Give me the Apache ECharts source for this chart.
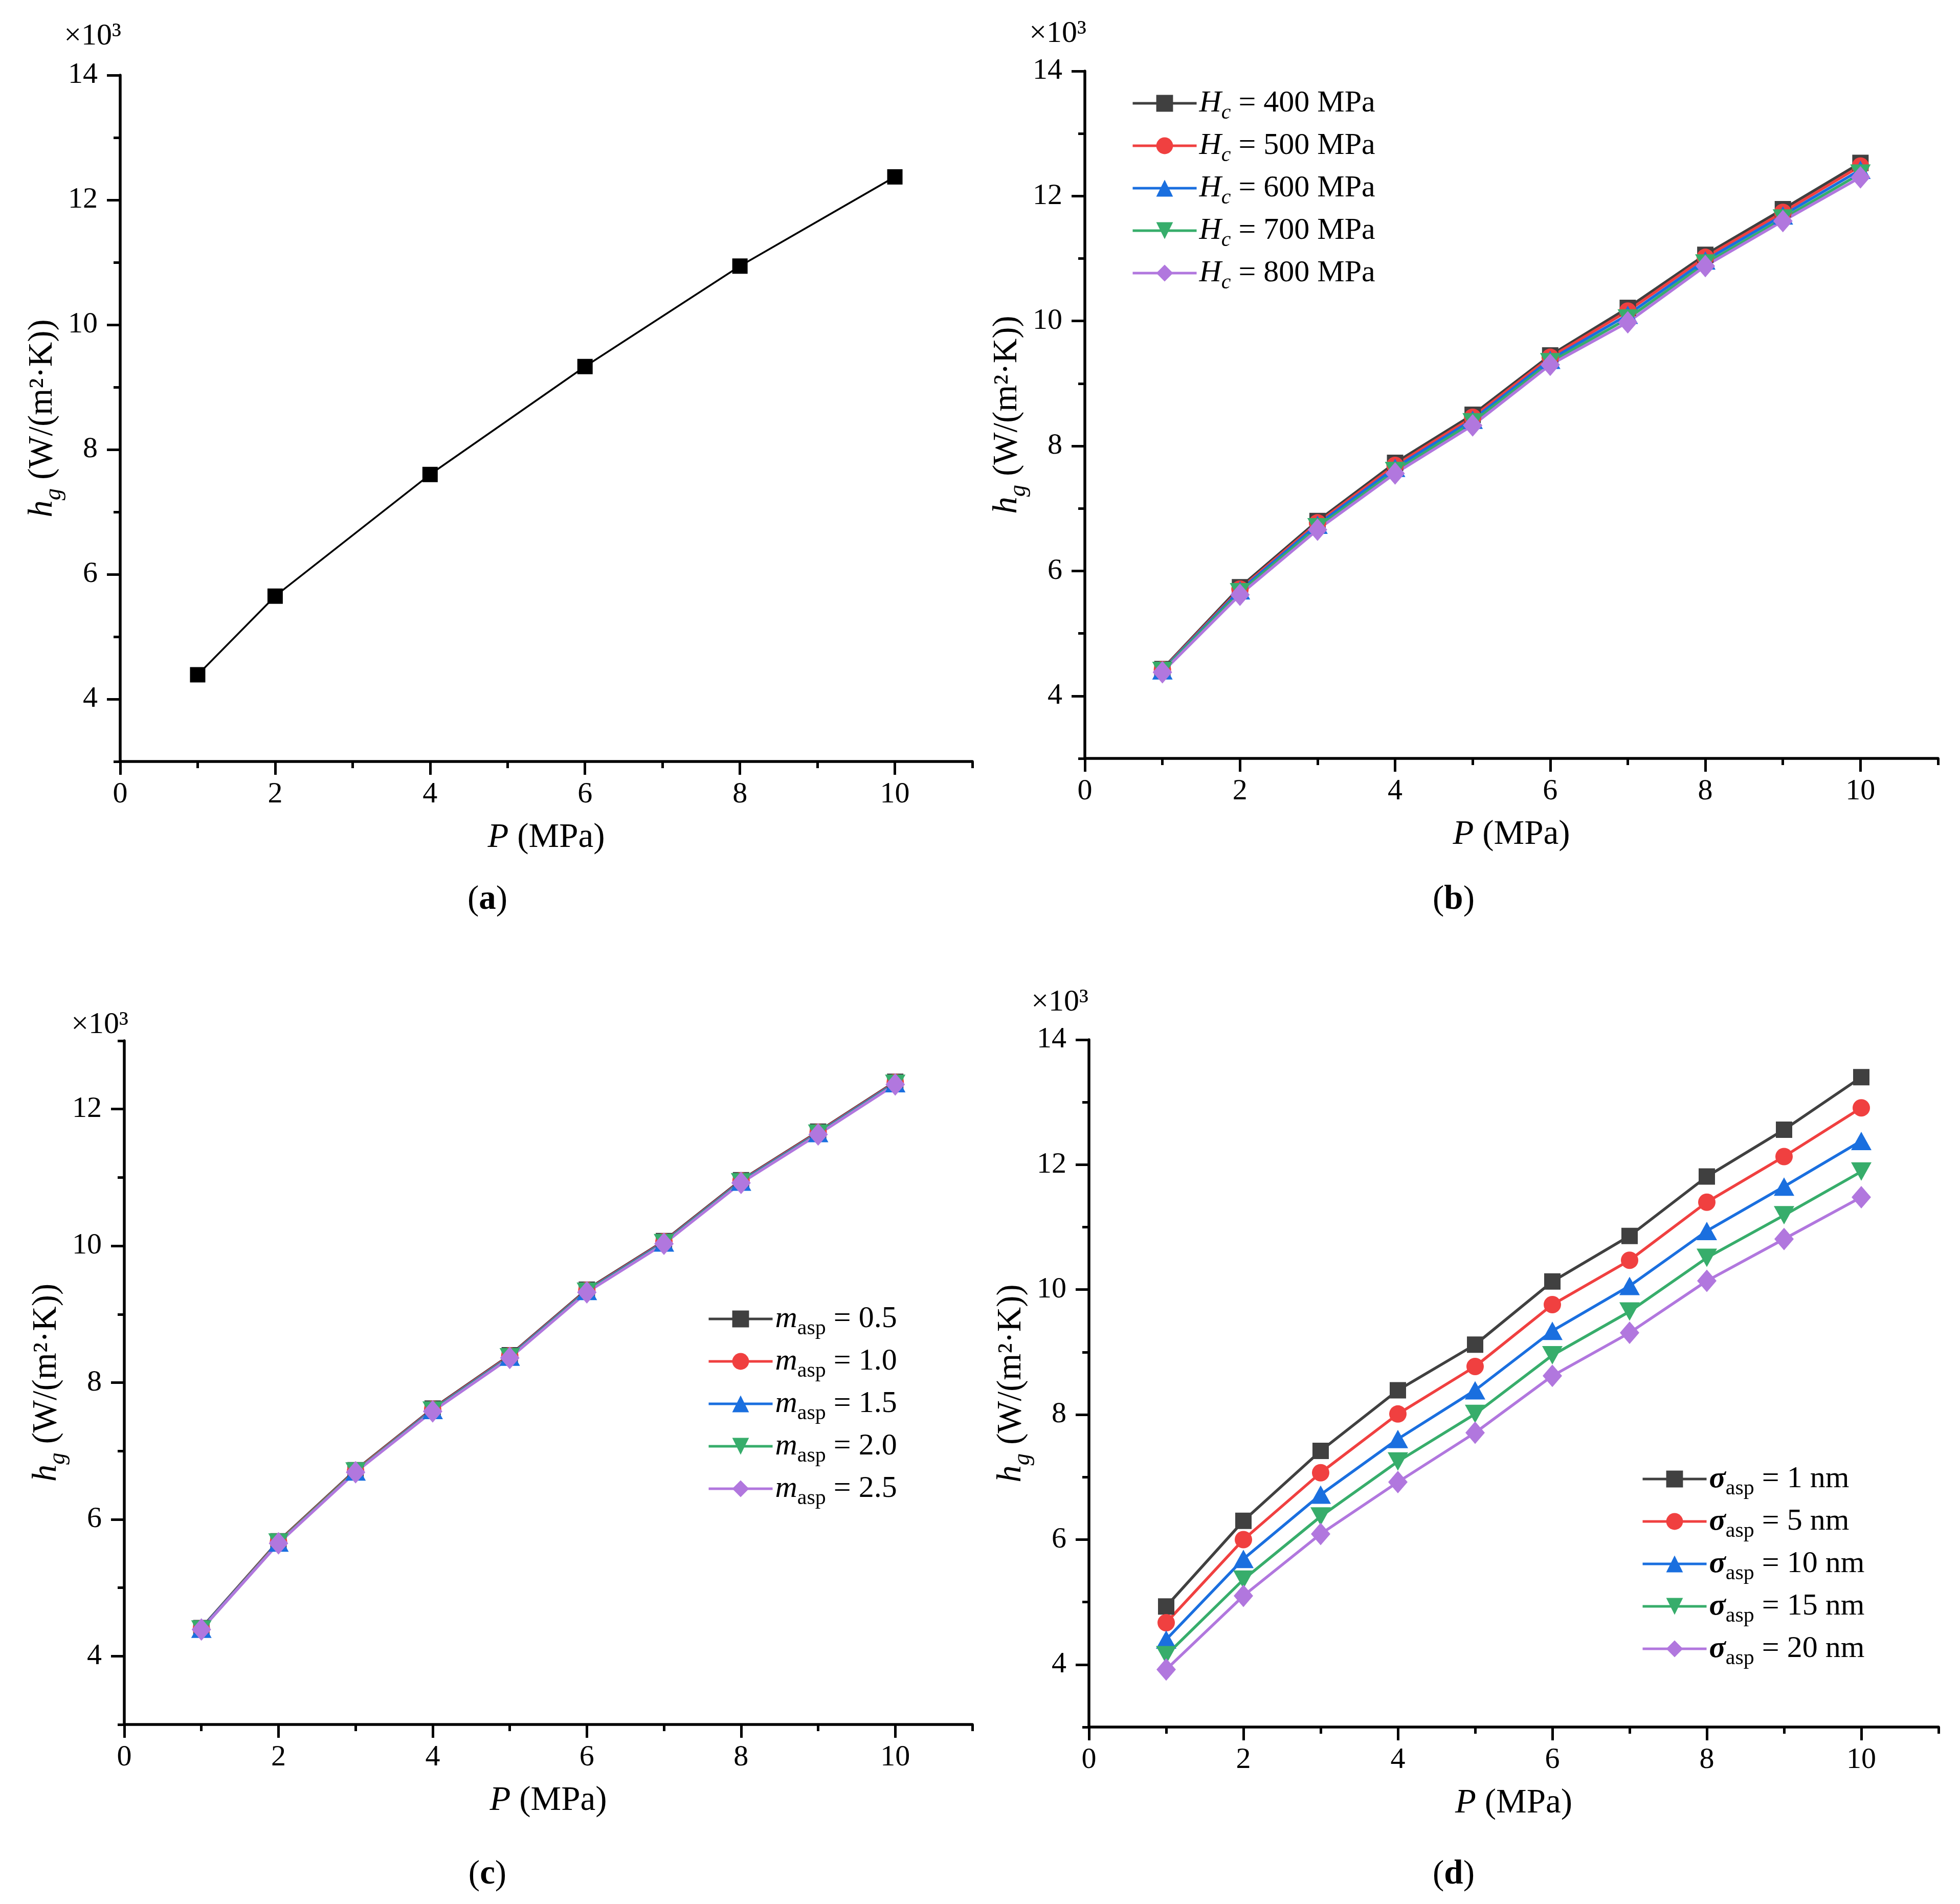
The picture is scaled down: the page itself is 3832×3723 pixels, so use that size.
<!DOCTYPE html>
<html><head><meta charset="utf-8">
<script src="https://cdn.jsdelivr.net/npm/echarts@6/dist/echarts.min.js"></script>
<style>html,body{margin:0;padding:0;background:#fff}#c{width:3832px;height:3723px}</style>
</head><body><div id="c"></div>
<script>
// ---------- data ----------
const pressureA = [1, 2, 4, 6, 8, 10];
const hgA = [4.39, 5.65, 7.60, 9.33, 10.94, 12.37];

const pressure = [1, 2, 3, 4, 5, 6, 7, 8, 9, 10];

const hcLabels = ['400', '500', '600', '700', '800'];
const hc400 = [4.43, 5.74, 6.80, 7.73, 8.50, 9.45, 10.21, 11.06, 11.79, 12.53];
const hc500 = [4.42, 5.71, 6.77, 7.69, 8.46, 9.42, 10.16, 11.02, 11.74, 12.48];
const hc600 = [4.41, 5.69, 6.74, 7.65, 8.42, 9.38, 10.10, 10.97, 11.69, 12.42];
const hc700 = [4.40, 5.66, 6.70, 7.60, 8.38, 9.34, 10.04, 10.92, 11.64, 12.36];
const hc800 = [4.38, 5.62, 6.66, 7.56, 8.33, 9.30, 9.98, 10.88, 11.60, 12.30];

const mLabels = ['0.5', '1.0', '1.5', '2.0', '2.5'];
const m05 = [4.41, 5.68, 6.72, 7.62, 8.40, 9.36, 10.07, 10.96, 11.67, 12.40];
const m10 = [4.40, 5.67, 6.71, 7.61, 8.39, 9.35, 10.06, 10.95, 11.66, 12.39];
const m15 = [4.40, 5.66, 6.70, 7.60, 8.38, 9.34, 10.05, 10.94, 11.65, 12.38];
const m20 = [4.39, 5.66, 6.70, 7.59, 8.37, 9.33, 10.04, 10.93, 11.64, 12.37];
const m25 = [4.39, 5.65, 6.69, 7.58, 8.36, 9.32, 10.03, 10.92, 11.63, 12.36];

const sigmaLabels = ['1', '5', '10', '15', '20'];
const s1 = [4.93, 6.30, 7.42, 8.39, 9.12, 10.13, 10.86, 11.81, 12.56, 13.40];
const s5 = [4.67, 6.00, 7.07, 8.01, 8.77, 9.76, 10.47, 11.40, 12.13, 12.91];
const s10 = [4.40, 5.69, 6.72, 7.61, 8.39, 9.34, 10.06, 10.94, 11.65, 12.38];
const s15 = [4.15, 5.36, 6.37, 7.25, 8.01, 8.95, 9.65, 10.51, 11.19, 11.89];
const s20 = [3.92, 5.10, 6.09, 6.92, 7.71, 8.62, 9.31, 10.14, 10.81, 11.48];

const xMajor = [0, 2, 4, 6, 8, 10];
const xMinor = [1, 3, 5, 7, 9, 11];
const yMajor14 = [4, 6, 8, 10, 12, 14];
const yMinor14 = [3, 5, 7, 9, 11, 13];
const yMajor13 = [4, 6, 8, 10, 12];
const yMinor13 = [3, 5, 7, 9, 11, 13];

// ---------- styling ----------
const SERIF = "'Liberation Serif', 'Times New Roman', serif";
const COLORS = ['#404040', '#F04040', '#1A6FDF', '#37AD6B', '#B177DE'];
const SYMBOLS = ['rect', 'circle', 'triangle', 'triangle', 'diamond'];
const SYMROT = [0, 0, 0, 180, 0];
const SYMSIZE = [32, 34, [40, 36], [40, 36], [38, 44]];

const grids = [
  {left: 235, top: 147, width: 1666, height: 1342},
  {left: 2121, top: 139, width: 1668, height: 1344},
  {left: 243, top: 2035, width: 1658, height: 1337},
  {left: 2129, top: 2033, width: 1661, height: 1344}
];
const yMax = [14, 14, 13, 14];

const axisColor = '#000';
const titleRich = {
  n: {fontFamily: SERIF, fontSize: 67, color: '#000', lineHeight: 72},
  i: {fontFamily: SERIF, fontSize: 67, fontStyle: 'italic', color: '#000', lineHeight: 72},
  si: {fontFamily: SERIF, fontSize: 47, fontStyle: 'italic', color: '#000', lineHeight: 72, padding: [44, 0, 0, 0]}
};

const xAxes = [], yAxes = [];
grids.forEach((g, i) => {
  const yMaj = yMax[i] === 14 ? yMajor14 : yMajor13;
  const yMin = yMax[i] === 14 ? yMinor14 : yMinor13;
  xAxes.push({
    type: 'value', gridIndex: i, min: 0, max: 11, position: 'bottom',
    axisLine: {show: true, onZero: false, lineStyle: {color: axisColor, width: 5.5}},
    axisTick: {show: true, length: 26, customValues: xMajor, lineStyle: {color: axisColor, width: 5}},
    axisLabel: {customValues: xMajor, fontFamily: SERIF, fontSize: 58, color: '#000', margin: 36},
    splitLine: {show: false},
    name: '{i|P}{n| (MPa)}', nameLocation: 'middle', nameGap: 113,
    nameTextStyle: {rich: titleRich}
  });
  xAxes.push({
    type: 'value', gridIndex: i, min: 0, max: 11, position: 'bottom', offset: 0,
    axisLine: {show: false, onZero: false},
    axisTick: {show: true, length: 13, customValues: xMinor, lineStyle: {color: axisColor, width: 5}},
    axisLabel: {show: false, customValues: xMinor},
    splitLine: {show: false}
  });
  yAxes.push({
    type: 'value', gridIndex: i, min: 3, max: yMax[i], position: 'left',
    axisLine: {show: true, onZero: false, lineStyle: {color: axisColor, width: 5.5}},
    axisTick: {show: true, length: 26, customValues: yMaj, lineStyle: {color: axisColor, width: 5}},
    axisLabel: {customValues: yMaj, fontFamily: SERIF, fontSize: 58, color: '#000', margin: 44},
    splitLine: {show: false},
    name: '{i|h}{si|g}{n| (W/(m²·K))}', nameLocation: 'middle', nameGap: 110,
    nameTextStyle: {rich: titleRich}
  });
  yAxes.push({
    type: 'value', gridIndex: i, min: 3, max: yMax[i], position: 'left', offset: 0,
    axisLine: {show: false, onZero: false},
    axisTick: {show: true, length: 13, customValues: yMin, lineStyle: {color: axisColor, width: 5}},
    axisLabel: {show: false, customValues: yMin},
    splitLine: {show: false}
  });
});

function pairs(xs, ys) { return xs.map((x, k) => [x, ys[k]]); }

const series = [];
series.push({
  type: 'line', name: 'a', xAxisIndex: 0, yAxisIndex: 0,
  data: pairs(pressureA, hgA),
  symbol: 'rect', symbolSize: 30,
  lineStyle: {color: '#000', width: 3.5}, itemStyle: {color: '#000'},
  animation: false
});
function addGroup(gi, prefix, labels, arrays) {
  arrays.forEach((arr, k) => {
    series.push({
      type: 'line', name: prefix + labels[k],
      xAxisIndex: gi * 2, yAxisIndex: gi * 2,
      data: pairs(pressure, arr),
      symbol: SYMBOLS[k], symbolSize: SYMSIZE[k], symbolRotate: SYMROT[k],
      lineStyle: {color: COLORS[k], width: 5.5}, itemStyle: {color: COLORS[k]},
      animation: false
    });
  });
}
addGroup(1, 'Hc', hcLabels, [hc400, hc500, hc600, hc700, hc800]);
addGroup(2, 'm', mLabels, [m05, m10, m15, m20, m25]);
addGroup(3, 's', sigmaLabels, [s1, s5, s10, s15, s20]);

const legendRich = {
  n: {fontFamily: SERIF, fontSize: 60, color: '#000', lineHeight: 40},
  i: {fontFamily: SERIF, fontSize: 60, fontStyle: 'italic', color: '#000', lineHeight: 40},
  bi: {fontFamily: SERIF, fontSize: 60, fontStyle: 'italic', fontWeight: 'bold', color: '#000', lineHeight: 40},
  si: {fontFamily: SERIF, fontSize: 42, fontStyle: 'italic', color: '#000', lineHeight: 40, padding: [38, 0, 0, 0]},
  s: {fontFamily: SERIF, fontSize: 42, color: '#000', lineHeight: 40, padding: [38, 0, 0, 0]}
};
function legendCfg(prefix, labels, left, firstCenter, fmt) {
  return {
    data: labels.map(l => prefix + l),
    orient: 'vertical', left: left, top: firstCenter - 35,
    padding: 0, itemWidth: 125, itemHeight: 41, itemGap: 3,
    selectedMode: false,
    lineStyle: {width: 5},
    formatter: fmt,
    textStyle: {fontFamily: SERIF, fontSize: 60, color: '#000', rich: legendRich}
  };
}
const legends = [
  legendCfg('Hc', hcLabels, 2212, 197, name => '{i|H}{si|c}{n| = ' + name.slice(2) + ' MPa}'),
  legendCfg('m', mLabels, 1383, 2574, name => '{i|m}{s|asp}{n| = ' + name.slice(1) + '}'),
  legendCfg('s', sigmaLabels, 3209, 2887, name => '{bi|σ}{s|asp}{n| = ' + name.slice(1) + ' nm}')
];

function txt(x, y, text, size, align) {
  return {type: 'text', x: x, y: y, z: 10,
    style: {text: text, fontFamily: SERIF, fontSize: size, fill: '#000',
      align: align, textAlign: align, verticalAlign: 'middle', textVerticalAlign: 'middle'}};
}
const panelRich = {
  n: {fontFamily: SERIF, fontSize: 67, color: '#000'},
  b: {fontFamily: SERIF, fontSize: 67, fontWeight: 'bold', color: '#000'}
};
function panelLabel(x, y, letter) {
  return {type: 'text', x: x, y: y, z: 10,
    style: {text: '{n|(}{b|' + letter + '}{n|)}', rich: panelRich,
      align: 'center', textAlign: 'center', verticalAlign: 'middle', textVerticalAlign: 'middle'}};
}
const graphics = [
  txt(237, 71, '×10³', 60, 'right'),
  txt(2124, 66, '×10³', 60, 'right'),
  txt(251, 2004, '×10³', 60, 'right'),
  txt(2128, 1960, '×10³', 60, 'right'),
  panelLabel(953, 1760, 'a'),
  panelLabel(2842, 1760, 'b'),
  panelLabel(953, 3666, 'c'),
  panelLabel(2842, 3666, 'd')
];

const chart = echarts.init(document.getElementById('c'), null, {renderer: 'canvas'});
chart.setOption({
  backgroundColor: '#fff',
  animation: false,
  grid: grids,
  xAxis: xAxes,
  yAxis: yAxes,
  legend: legends,
  series: series,
  graphic: graphics
});
</script></body></html>
